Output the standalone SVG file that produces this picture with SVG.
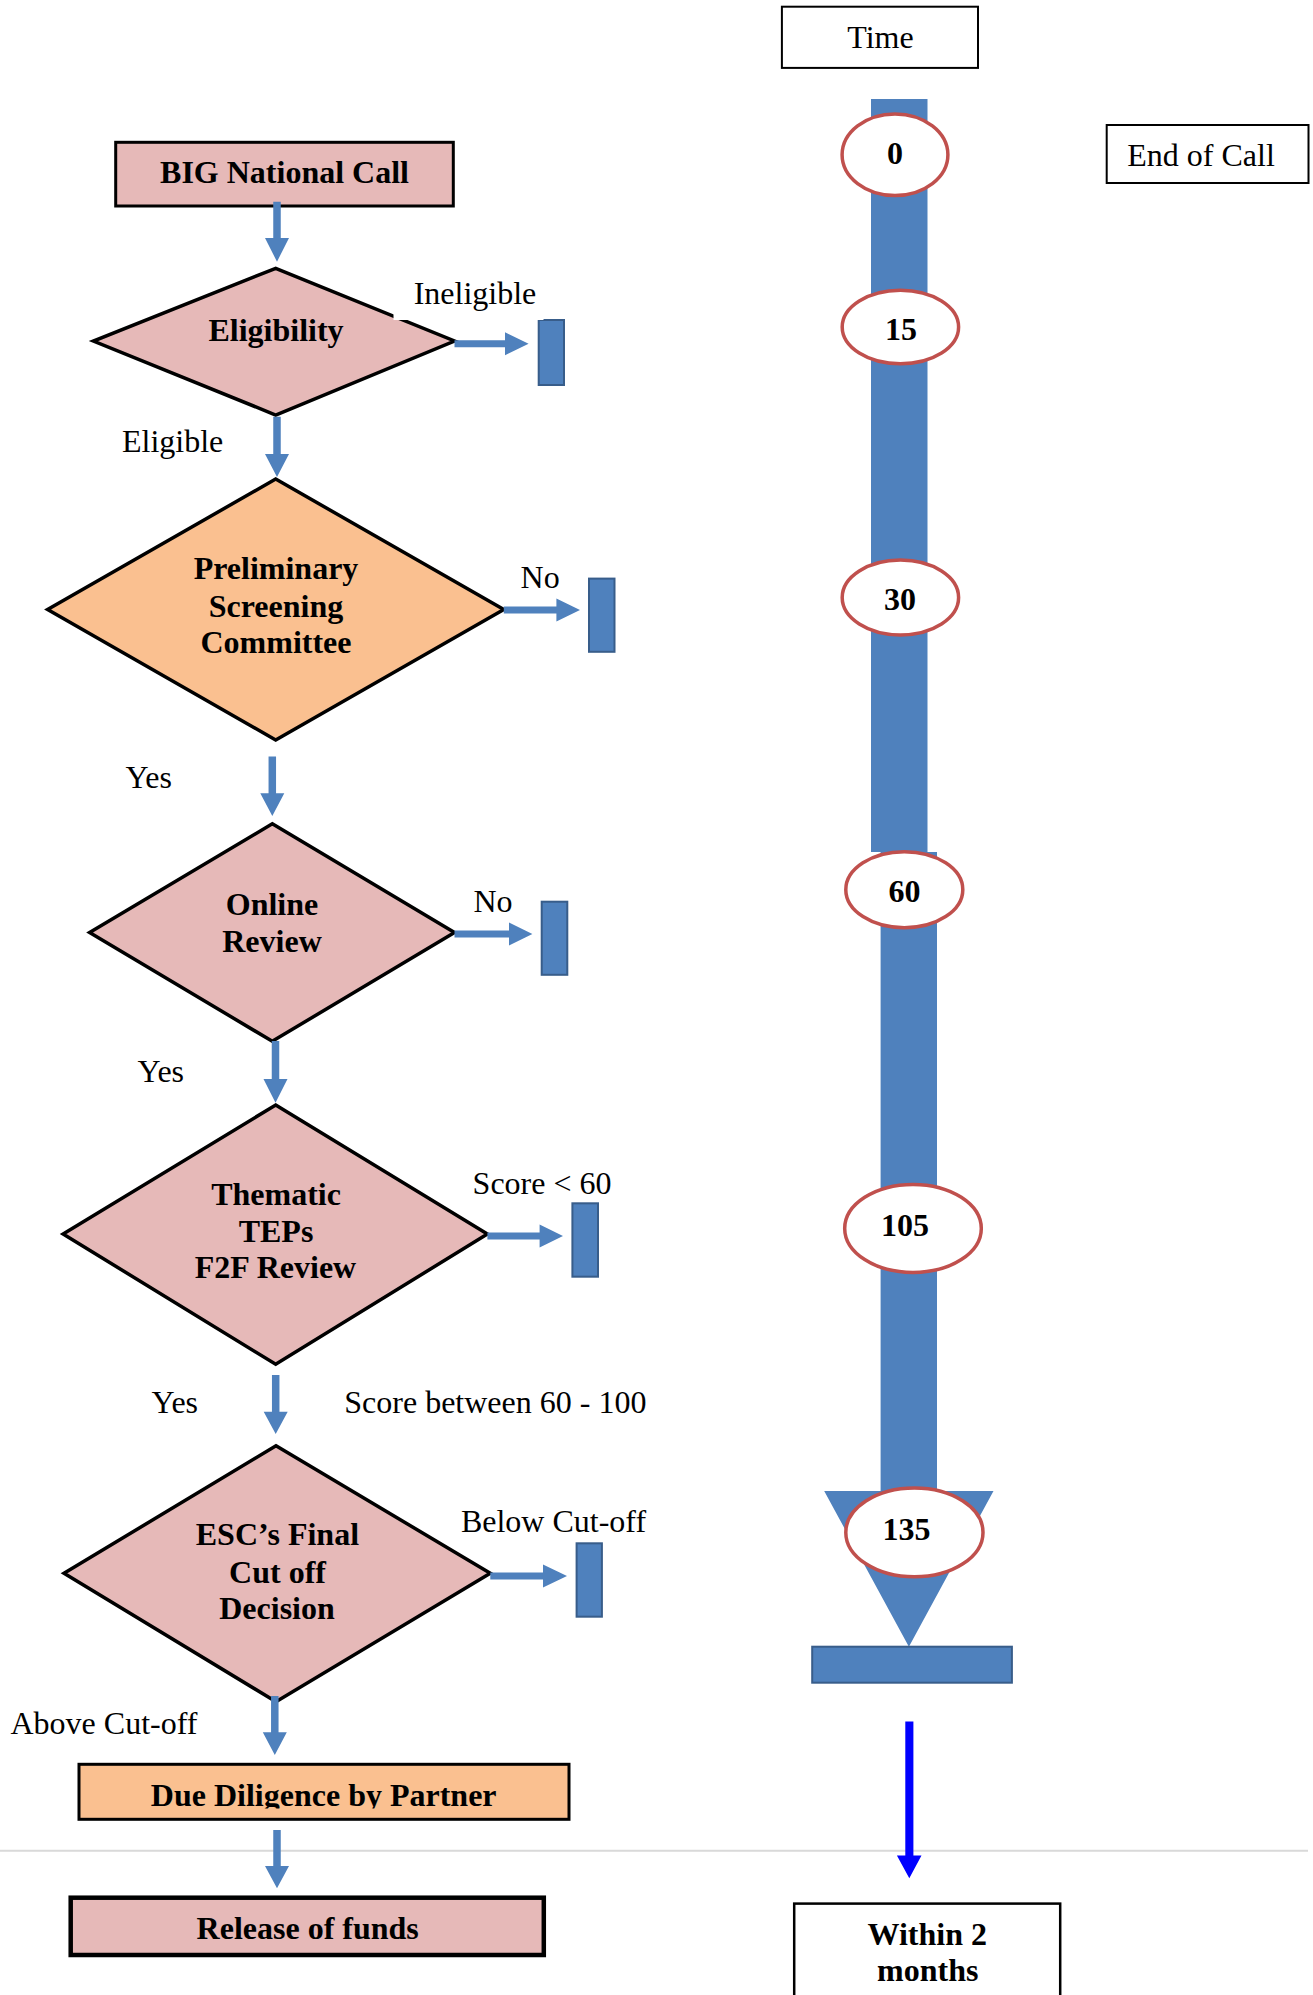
<svg xmlns="http://www.w3.org/2000/svg" width="1313" height="1995" viewBox="0 0 1313 1995">
<style>
.t{font-family:"Liberation Serif","Times New Roman",serif;font-size:32px;fill:#000}
.b{font-weight:bold}
.m{text-anchor:middle}
.pink{fill:#E6B9B8;stroke:#000;stroke-width:3.5;stroke-linejoin:miter}
.orange{fill:#FAC090;stroke:#000;stroke-width:3.5}
.rej{fill:#4F81BD;stroke:#385D8A;stroke-width:2}
.conn{fill:#4F81BD}
.tick{fill:#fff;stroke:#C0504D;stroke-width:3.5}
.box{fill:#fff;stroke:#000;stroke-width:2}
</style>
<defs>
<clipPath id="clipDue"><rect x="79" y="1764" width="490" height="44.5"/></clipPath>
<clipPath id="clipBelow"><rect x="440" y="1490" width="230" height="43"/></clipPath>
</defs>
<rect x="0" y="0" width="1313" height="1995" fill="#fff"/>
<line x1="0" y1="1850.8" x2="1308" y2="1850.8" stroke="#D9D9D9" stroke-width="2"/>

<g id="big-call">
<rect class="pink" x="115.7" y="142.3" width="337.6" height="63.7" style="stroke-width:3"/>
<text class="t b m" x="284.5" y="182.7">BIG National Call</text>
</g>
<g id="eligibility">
<polygon class="pink" points="275.7,268.3 454.5,341 275.7,415 93.4,341"/>
<text class="t b m" x="276" y="340.7">Eligibility</text>
</g>
<g id="prelim">
<polygon class="orange" points="275.7,479 503.8,609.5 275.7,740 47.6,609.5"/>
<text class="t b m" x="276" y="579">Preliminary</text>
<text class="t b m" x="276" y="616.5">Screening</text>
<text class="t b m" x="276" y="653">Committee</text>
</g>
<g id="online">
<polygon class="pink" points="272.3,823.8 454.5,932.5 272.3,1041.3 89.6,932.5"/>
<text class="t b m" x="272" y="914.7">Online</text>
<text class="t b m" x="272" y="951.5">Review</text>
</g>
<g id="thematic">
<polygon class="pink" points="275.7,1105 487.4,1234 275.7,1364.3 63.1,1234"/>
<text class="t b m" x="276" y="1205">Thematic</text>
<text class="t b m" x="276" y="1241.7">TEPs</text>
<text class="t b m" x="275.5" y="1278.3">F2F Review</text>
</g>
<g id="esc">
<polygon class="pink" points="276,1445.7 490.3,1573.3 276,1701.7 64,1573.3"/>
<text class="t b m" x="277.4" y="1545">ESC’s Final</text>
<text class="t b m" x="277.5" y="1582.7">Cut off</text>
<text class="t b m" x="277" y="1619.3">Decision</text>
</g>
<g id="due-diligence">
<rect class="orange" x="79" y="1764.3" width="490" height="55" style="stroke-width:3"/>
<text class="t b m" x="323.7" y="1805.7" clip-path="url(#clipDue)">Due Diligence by Partner</text>
</g>
<g id="release">
<rect class="pink" x="70.7" y="1897.7" width="473.1" height="57.3" style="stroke-width:4.5"/>
<text class="t b m" x="307.7" y="1939.3">Release of funds</text>
</g>

<g id="rejections">
<rect class="rej" x="538.7" y="320" width="25.3" height="65"/>
<rect class="rej" x="589" y="578.6" width="25.5" height="73.2"/>
<rect class="rej" x="541.7" y="901.7" width="25.6" height="73.1"/>
<rect class="rej" x="572.4" y="1203.3" width="25.6" height="73.4"/>
<rect class="rej" x="576.6" y="1543.3" width="25.3" height="73.4"/>
</g>

<g id="labels">
<rect x="393.5" y="272" width="150" height="48" fill="#fff"/>
<text class="t" x="413.7" y="304.3">Ineligible</text>
<text class="t" x="122" y="451.7">Eligible</text>
<text class="t" x="520.6" y="587.7">No</text>
<text class="t" x="125.4" y="788">Yes</text>
<text class="t" x="473.5" y="912">No</text>
<text class="t" x="137.5" y="1081.7">Yes</text>
<text class="t" x="472.6" y="1194.3">Score &lt; 60</text>
<text class="t" x="151.5" y="1413.3">Yes</text>
<text class="t" x="344.3" y="1413.3">Score between 60 - 100</text>
<text class="t" x="460.9" y="1531.7" clip-path="url(#clipBelow)">Below Cut-off</text>
<text class="t" x="10.5" y="1734.3">Above Cut-off</text>
</g>

<g id="connectors">
<path class="conn" d="M273.25 201.7 H280.75 V238 H289 L277 261.7 L265 238 H273.25 Z"/>
<path class="conn" d="M273.25 416.7 H280.75 V454 H289 L277 477 L265 454 H273.25 Z"/>
<path class="conn" d="M268.55 756.6 H276.05 V793.3 H284.3 L272.3 816 L260.3 793.3 H268.55 Z"/>
<path class="conn" d="M271.75 1041 H279.25 V1079 H287.5 L275.5 1102.7 L263.5 1079 H271.75 Z"/>
<path class="conn" d="M271.95 1375 H279.45 V1411.7 H287.7 L275.7 1434 L263.7 1411.7 H271.95 Z"/>
<path class="conn" d="M271.05 1696 H278.55 V1732.3 H286.8 L274.8 1755 L262.8 1732.3 H271.05 Z"/>
<path class="conn" d="M273.25 1830 H280.75 V1866 H289 L277 1888.3 L265 1866 H273.25 Z"/>
<path class="conn" d="M454.5 340.2 H505 V332.2 L528.6 343.7 L505 355.2 V347.2 H454.5 Z"/>
<path class="conn" d="M503.8 606.5 H556.4 V598.5 L580 610 L556.4 621.5 V613.5 H503.8 Z"/>
<path class="conn" d="M454.5 930.5 H509 V922.5 L532.4 934 L509 945.5 V937.5 H454.5 Z"/>
<path class="conn" d="M487.4 1232.5 H539.6 V1224.5 L563 1236 L539.6 1247.5 V1239.5 H487.4 Z"/>
<path class="conn" d="M490.3 1572.5 H543 V1564.5 L567 1576 L543 1587.5 V1579.5 H490.3 Z"/>
<path d="M905.3 1721.4 H913.4 V1855.4 H921.5 L909.3 1878.2 L896.9 1855.4 H905.3 Z" fill="#0000FF"/>
</g>

<g id="timeline">
<rect x="871" y="99" width="56.5" height="753" fill="#4F81BD"/>
<path d="M880.6 852 H937 V1491 H993.5 L908.9 1646.7 L824.2 1491 H880.6 Z" fill="#4F81BD"/>
<rect class="rej" x="812.2" y="1646.7" width="199.7" height="36"/>
</g>
<g id="time-box">
<rect class="box" x="781.9" y="6.7" width="196.1" height="61.2"/>
<text class="t m" x="880.5" y="48.2">Time</text>
</g>
<g id="end-of-call">
<rect class="box" x="1106.7" y="125" width="201.8" height="58"/>
<text class="t m" x="1201" y="166">End of Call</text>
</g>
<g id="t0">
<ellipse class="tick" cx="895" cy="154.7" rx="52.9" ry="40.8"/>
<text class="t b m" x="895" y="164.3">0</text>
</g>
<g id="t15">
<ellipse class="tick" cx="900.4" cy="327" rx="58.2" ry="36.8"/>
<text class="t b m" x="901" y="340.2">15</text>
</g>
<g id="t30">
<ellipse class="tick" cx="900.4" cy="597.5" rx="58.2" ry="37.4"/>
<text class="t b m" x="900" y="610">30</text>
</g>
<g id="t60">
<ellipse class="tick" cx="904.3" cy="889.7" rx="58.5" ry="38"/>
<text class="t b m" x="904.5" y="901.8">60</text>
</g>
<g id="t105">
<ellipse class="tick" cx="913" cy="1228.4" rx="68.3" ry="44"/>
<text class="t b m" x="905" y="1235.7">105</text>
</g>
<g id="t135">
<ellipse class="tick" cx="914.4" cy="1532.4" rx="68.6" ry="44.4"/>
<text class="t b m" x="906.4" y="1539.7">135</text>
</g>
<g id="within">
<rect x="794.2" y="1903.6" width="266" height="100" fill="#fff" stroke="#000" stroke-width="2.5"/>
<text class="t b m" x="927.2" y="1944.6">Within 2</text>
<text class="t b m" x="927.8" y="1980.6">months</text>
</g>
</svg>
